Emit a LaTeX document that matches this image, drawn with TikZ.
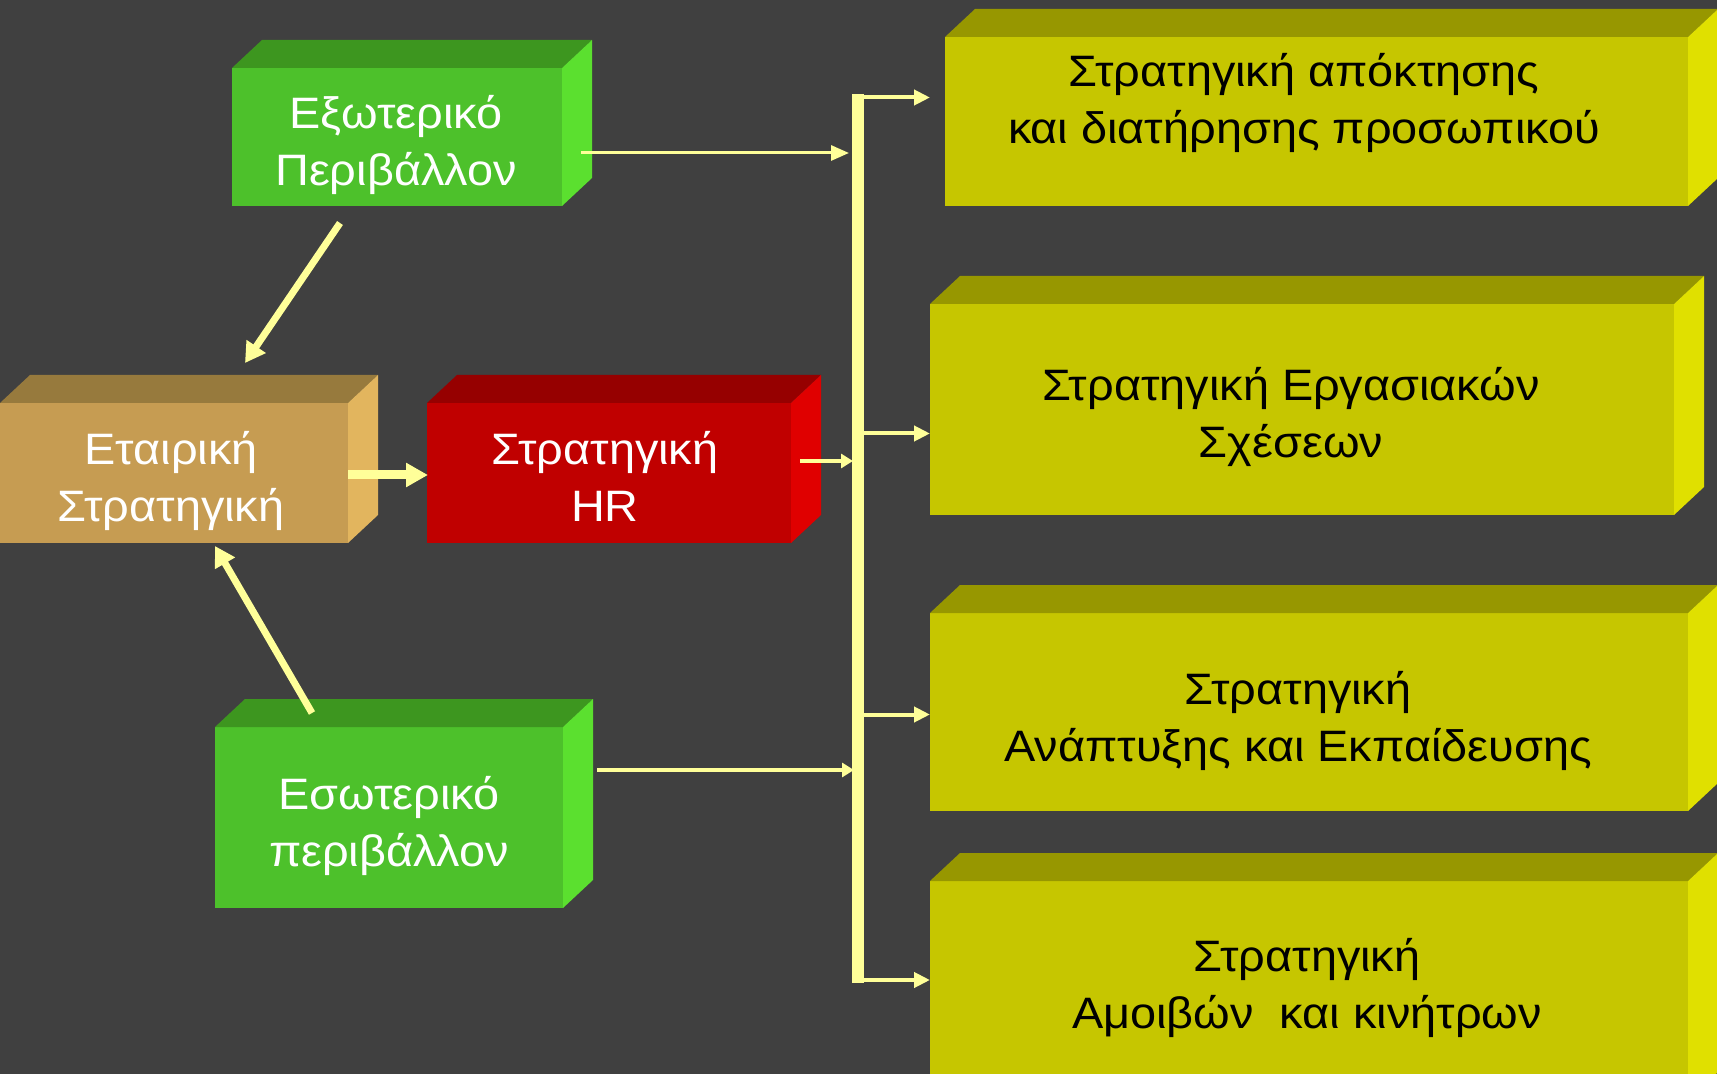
\documentclass[tikz,border=0pt]{standalone}
\usepackage{fontspec}
\setmainfont{Liberation Sans}[FakeStretch=1.065]
\usetikzlibrary{arrows.meta,calc}
\definecolor{bg}{HTML}{404040}
\definecolor{greenF}{HTML}{4DC12B}
\definecolor{greenT}{HTML}{3D961F}
\definecolor{greenS}{HTML}{5BE02F}
\definecolor{tanF}{HTML}{C69C52}
\definecolor{tanT}{HTML}{977A3D}
\definecolor{tanS}{HTML}{E2B55E}
\definecolor{redF}{HTML}{C00000}
\definecolor{redT}{HTML}{960000}
\definecolor{redS}{HTML}{E00000}
\definecolor{yelF}{HTML}{C6C600}
\definecolor{yelT}{HTML}{979700}
\definecolor{yelS}{HTML}{E0E000}
\definecolor{arrowc}{HTML}{FFFF99}
\newcommand\boxfaces[3]{%
  \fill[#2] (#1.north west) -- ++(30,-28) -- ($(#1.north east)+(30,-28)$) -- (#1.north east) -- cycle;
  \fill[#3] (#1.north east) -- ++(30,-28) -- ($(#1.south east)+(30,-28)$) -- (#1.south east) -- cycle;}
\begin{document}
\begin{tikzpicture}[x=0.5pt,y=-0.5pt,
  face/.style={rectangle,inner sep=0pt,outer sep=0pt,draw=none},
  lbl/.style={align=center,inner sep=0pt,font=\fontsize{22}{28.5}\selectfont},
  wlbl/.style={lbl,text=white},
  blbl/.style={lbl,text=black},
  thinarrow/.style={draw=arrowc,line width=1.5pt,-{Triangle[length=9pt,width=7.5pt]}},
  smallarrow/.style={draw=arrowc,line width=1.6pt,-{Triangle[length=6pt,width=7pt]}},
  brancharrow/.style={draw=arrowc,line width=2pt,-{Triangle[length=8pt,width=7.5pt]}},
  midarrow/.style={draw=arrowc,line width=3.5pt,-{Triangle[length=10pt,width=11pt]}},
  thickarrow/.style={draw=arrowc,line width=4.5pt,-{Triangle[length=11pt,width=11.5pt]}},
  busline/.style={draw=arrowc,line width=6pt}]

\useasboundingbox (0,0) rectangle (1717,1074);
\clip (0,0) rectangle (1717,1074);
\fill[bg] (0,0) rectangle (1717,1074);

% left boxes
\node[face,fill=greenF,minimum width=165pt,minimum height=69pt] (ext) at (397,137) {};
\boxfaces{ext}{greenT}{greenS}
\node[face,fill=tanF,minimum width=174pt,minimum height=70pt] (corp) at (174,473) {};
\boxfaces{corp}{tanT}{tanS}
\node[face,fill=redF,minimum width=182pt,minimum height=70pt] (hr) at (609,473) {};
\boxfaces{hr}{redT}{redS}
\node[face,fill=greenF,minimum width=174pt,minimum height=90.5pt] (int) at (389,817.5) {};
\boxfaces{int}{greenT}{greenS}

% right boxes
\node[face,fill=yelF,minimum width=371.5pt,minimum height=84.5pt] (r1) at (1316.5,121.5) {};
\boxfaces{r1}{yelT}{yelS}
\node[face,fill=yelF,minimum width=372pt,minimum height=105.5pt] (r2) at (1302,409.5) {};
\boxfaces{r2}{yelT}{yelS}
\node[face,fill=yelF,minimum width=379pt,minimum height=99pt] (r3) at (1309,712) {};
\boxfaces{r3}{yelT}{yelS}
\node[face,fill=yelF,minimum width=379pt,minimum height=109.5pt] (r4) at (1309,990.5) {};
\boxfaces{r4}{yelT}{yelS}

% labels
\node[wlbl] (extT) at (396,145.5) {\strut Εξωτερικό\\\strut Περιβάλλον};
\node[wlbl] (corpT) at (171,481.5) {\strut Εταιρική\\\strut Στρατηγική};
\node[wlbl] (hrT) at (605,481.5) {\strut Στρατηγική\\\strut HR};
\node[wlbl] (intT) at (389,826.5) {\strut Εσωτερικό\\\strut περιβάλλον};
\node[blbl] (r1T) at (1304,103.5) {\strut Στρατηγική απόκτησης\\\strut και διατήρησης προσωπικού};
\node[blbl] (r2T) at (1291,418) {\strut Στρατηγική Εργασιακών\\\strut Σχέσεων};
\node[blbl] (r3T) at (1298,721.5) {\strut Στρατηγική\\\strut Ανάπτυξης και Εκπαίδευσης};
\node[blbl] (r4T) at (1307,988.5) {\strut Στρατηγική\\\strut Αμοιβών~ και κινήτρων};

% connector end points
\coordinate (extOut) at (340,223);
\coordinate (corpInTop) at (245,363);
\coordinate (intOut) at (312,713);
\coordinate (corpInBot) at (215,546);
\coordinate (corpOut) at (348,475);
\coordinate (hrIn) at (428,475);
\coordinate (extR) at (581,153);
\coordinate (busExt) at (849,153);
\coordinate (hrR) at (800,461);
\coordinate (busHr) at (853,461);
\coordinate (intR) at (597,770);
\coordinate (busInt) at (854,770);
\coordinate (busT) at (858,94.5);
\coordinate (busB) at (858,983);
\coordinate (b1) at (858,97.5);
\coordinate (b2) at (858,433.5);
\coordinate (b3) at (858,714.5);
\coordinate (b4) at (858,980);
\coordinate (r1In) at (930,97.5);
\coordinate (r2In) at (930,433.5);
\coordinate (r3In) at (930,714.5);
\coordinate (r4In) at (930,980);

% connectors
\draw[midarrow] (extOut) -- (corpInTop);
\draw[midarrow] (intOut) -- (corpInBot);
\draw[thickarrow] (corpOut) -- (hrIn);
\draw[thinarrow] (extR) -- (busExt);
\draw[smallarrow] (hrR) -- (busHr);
\draw[smallarrow] (intR) -- (busInt);
\draw[busline] (busT) -- (busB);
\draw[brancharrow] (b1) -- (r1In);
\draw[brancharrow] (b2) -- (r2In);
\draw[brancharrow] (b3) -- (r3In);
\draw[brancharrow] (b4) -- (r4In);
\end{tikzpicture}
\end{document}
